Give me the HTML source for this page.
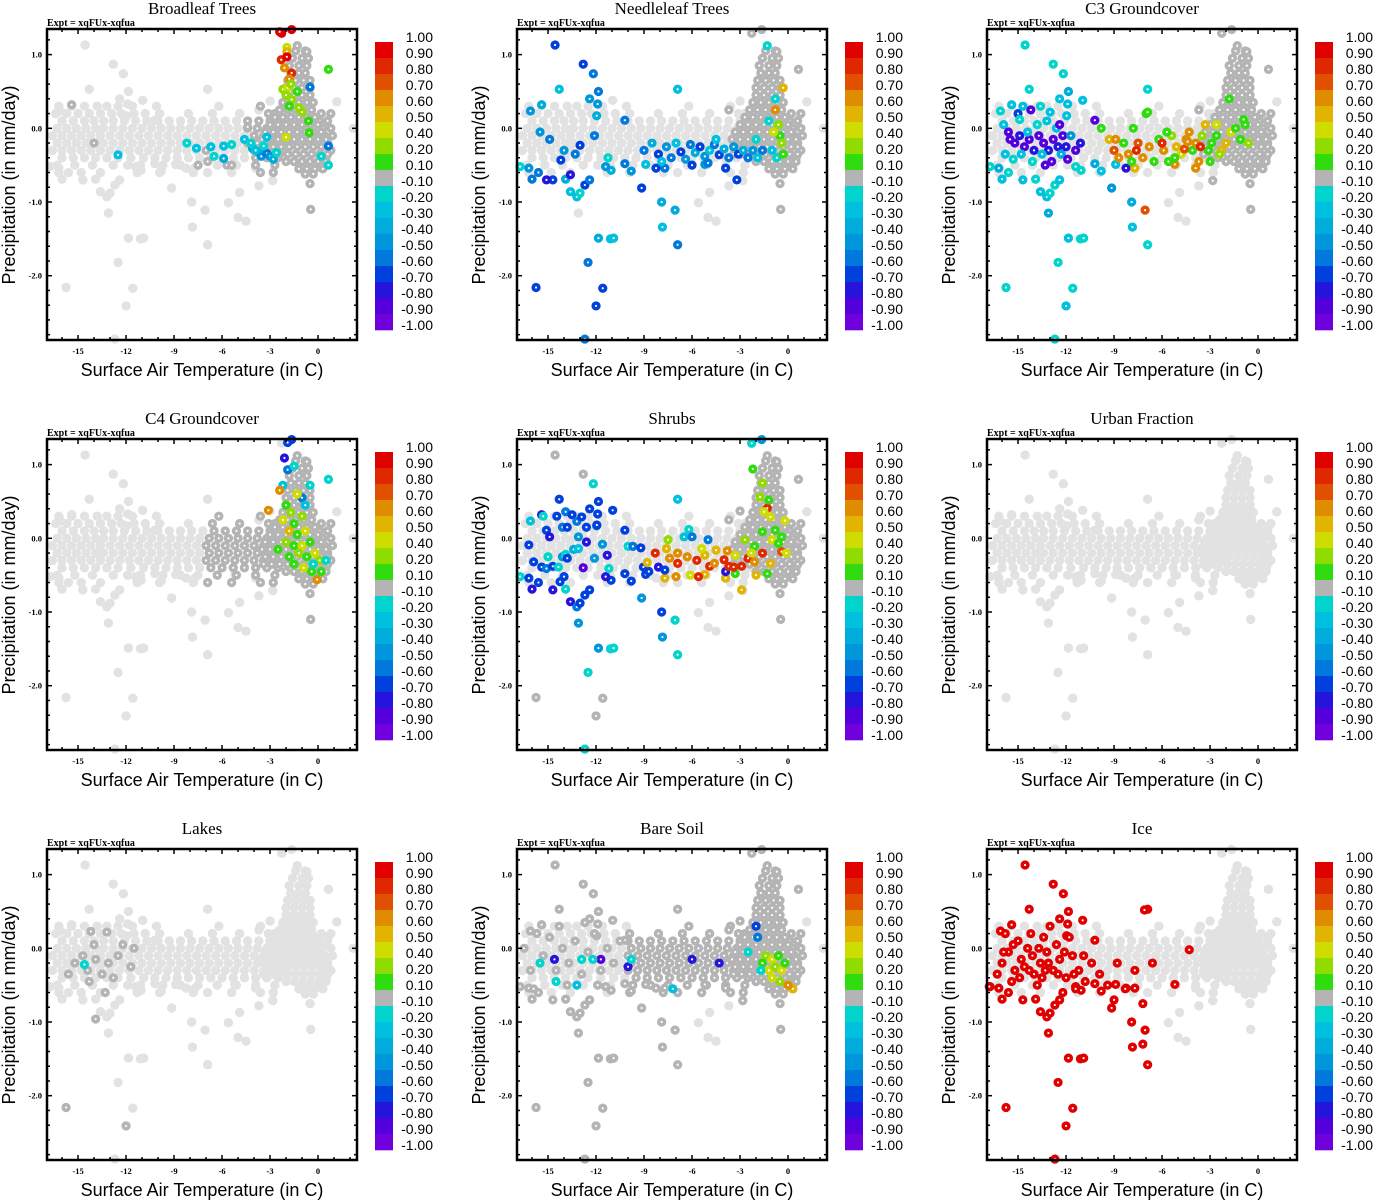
<!DOCTYPE html>
<html><head><meta charset="utf-8"><title>Scatter panels</title>
<style>
body{margin:0;background:#fff;}
svg{display:block;}
.ttl{font-family:"Liberation Serif",serif;font-size:17px;text-anchor:middle;}
.expt{font-family:"Liberation Serif",serif;font-size:10px;font-weight:bold;}
.tk{font-family:"Liberation Serif",serif;font-size:8.5px;font-weight:bold;}
.axt{font-family:"Liberation Sans",sans-serif;font-size:18px;text-anchor:middle;}
.cbl{font-family:"Liberation Sans",sans-serif;font-size:14px;text-anchor:end;}
</style></head>
<body>
<svg id="chart" width="1373" height="1200" viewBox="0 0 1373 1200" xmlns="http://www.w3.org/2000/svg"></svg>
<script>
// ---------- data ----------
const titles=["Broadleaf Trees","Needleleaf Trees","C3 Groundcover","C4 Groundcover","Shrubs","Urban Fraction","Lakes","Bare Soil","Ice"];
const cbLabels=["1.00","0.90","0.80","0.70","0.60","0.50","0.40","0.20","0.10","-0.10","-0.20","-0.30","-0.40","-0.50","-0.60","-0.70","-0.80","-0.90","-1.00"];
const cbBounds=[1.0,0.9,0.8,0.7,0.6,0.5,0.4,0.2,0.1,-0.1,-0.2,-0.3,-0.4,-0.5,-0.6,-0.7,-0.8,-0.9,-1.0];
const cbColors=["#e00000","#e02800","#e05000","#e08c00","#e0b400","#cfdc00","#90dc00","#30dc10","#b4b4b4","#00d4cc","#00c0e0","#00acdc","#0096dc","#0078dc","#0040dc","#2414dc","#5400dc","#7000dc"];
const xTicks=[-15,-12,-9,-6,-3,0];
const yTicks=[1.0,0.0,-1.0,-2.0];
const yTickLabels=["1.0","0.0","-1.0","-2.0"];

const bandRows=[
[0.3,[-16.2,-15.4,-14.6,-13.8,-13.2,-12.5,-11.6,-10.1,-6.2,-3.6]],
[0.2,[-16.4,-15.7,-15.0,-14.3,-13.6,-12.9,-12.3,-11.5,-10.8,-9.9,-8.1,-6.6,-4.9,-3.1,-2.7,0.2,0.8]],
[0.1,[-16.0,-15.3,-14.6,-14.0,-13.4,-12.8,-12.1,-11.4,-10.7,-10.0,-9.3,-8.6,-7.9,-7.2,-6.5,-5.8,-5.1,-4.4,-3.7,-3.0,-2.4,0.1,0.6]],
[0.0,[-16.3,-15.7,-15.1,-14.5,-13.9,-13.4,-12.8,-12.2,-11.6,-11.0,-10.4,-9.8,-9.2,-8.6,-8.0,-7.4,-6.8,-6.2,-5.6,-5.0,-4.4,-3.8,-3.2,-2.6,0.3,0.8]],
[-0.1,[-16.6,-16.0,-15.4,-14.8,-14.2,-13.6,-13.0,-12.4,-11.8,-11.2,-10.6,-10.0,-9.4,-8.8,-8.2,-7.6,-7.0,-6.4,-5.8,-5.2,-4.6,-4.0,-3.4,-2.8,-2.2,0.4,0.9]],
[-0.2,[-16.3,-15.7,-15.1,-14.5,-13.9,-13.4,-12.8,-12.2,-11.6,-11.0,-10.4,-9.8,-9.2,-8.6,-8.0,-7.4,-6.8,-6.2,-5.6,-5.0,-4.4,-3.8,-3.2,-2.6,-2.0,0.3,0.6]],
[-0.3,[-16.6,-16.0,-15.4,-14.8,-14.2,-13.6,-13.0,-12.4,-11.8,-11.2,-10.6,-10.0,-9.4,-8.8,-8.2,-7.6,-7.0,-6.4,-5.8,-5.2,-4.6,-4.0,-3.4,-2.8,-2.2,0.4,0.8]],
[-0.4,[-16.0,-15.3,-14.6,-13.9,-13.2,-12.5,-11.7,-10.9,-10.2,-9.5,-8.8,-8.1,-7.4,-6.7,-6.0,-5.3,-4.6,-3.9,-3.2,-2.5,0.5]],
[-0.5,[-16.3,-15.2,-14.1,-12.8,-11.9,-11.1,-9.7,-8.6,-7.5,-6.3,-5.1,-3.9,-2.7,0.2]],
[-0.6,[-16.2,-14.8,-13.6,-11.3,-9.9,-7.8,-6.9,-5.4,-3.6,-2.8]]
];
const spikeRows=[
[1.05,[-1.4,-0.8]],[0.95,[-1.6,-1.0,-0.6]],[0.85,[-1.8,-1.2,-0.7]],[0.75,[-1.7,-1.2,-0.8]],
[0.65,[-1.9,-1.4,-0.9,-0.5]],[0.55,[-2.0,-1.5,-1.0,-0.5]],[0.45,[-2.0,-1.5,-1.0,-0.5]],
[0.35,[-2.2,-1.7,-1.2,-0.7,-0.3]],[0.25,[-2.4,-1.9,-1.4,-0.9,-0.4]],[0.15,[-2.7,-2.2,-1.7,-1.2,-0.7,-0.2]],
[0.05,[-3.0,-2.5,-2.0,-1.5,-1.0,-0.5,0.0]],[-0.05,[-3.3,-2.8,-2.3,-1.8,-1.3,-0.8,-0.3,0.2]],
[-0.15,[-3.5,-3.0,-2.5,-2.0,-1.5,-1.0,-0.5,0.0,0.5]],[-0.25,[-3.3,-2.8,-2.3,-1.8,-1.3,-0.8,-0.3,0.2,0.6]],
[-0.35,[-3.4,-2.9,-2.4,-1.9,-1.4,-0.9,-0.4,0.1,0.6]],[-0.45,[-2.0,-1.5,-1.0,-0.5,0.0,0.5]],
[-0.55,[-1.2,-0.7,-0.2,0.3]],[-0.62,[-0.8,-0.3]]
];
const outT=[-14.56,-12.8,-12.17,-14.3,-16.1,-15.4,-11.85,-12.4,-10.96,-11.9,-11.96,-10.2,-6.9,-16.75,-16.2,-16.0,-15.6,-14.7,-13.9,-13.6,-13.2,-13.0,-12.7,-12.4,-13.1,-11.85,-11.1,-10.9,-12.5,-15.75,-11.58,-12.0,-12.7,-9.15,-7.9,-7.85,-6.9,-7.06,-10.2,-9.8,-8.9,-11.06,-11.4,-8.25,-7.7,-5.2,-3.9,-2.83,-0.5,-0.46,-5.6,-5.0,-4.5,-4.9,-3.7,0.65,1.17,2.2,0.65,-0.7,-1.3,-1.65,-2.27,-3.7,-3.0];
const outP=[1.13,0.87,0.74,0.53,0.235,0.32,0.50,0.40,0.38,0.33,0.17,0.11,0.53,-0.52,-0.54,-0.69,-0.60,-0.70,-0.69,-0.86,-0.93,-0.88,-0.77,-0.70,-1.15,-1.49,-1.50,-1.49,-1.82,-2.16,-2.17,-2.41,-2.86,-0.81,-1.0,-1.34,-1.58,-1.11,-0.48,-0.58,-0.49,-0.57,-0.52,-0.54,-0.54,-0.49,-0.54,-0.71,-0.75,-1.1,-1.01,-1.21,-1.26,-0.87,-0.78,0.16,0.36,0.0,0.80,1.04,1.12,1.34,1.29,0.25,0.37];
const N=null;
const outV1=[N,N,N,N,N,0,N,N,N,N,N,N,N,N,N,N,N,N,N,N,N,N,N,N,N,N,N,N,N,N,N,N,N,N,N,N,N,N,N,N,N,N,N,N,N,N,N,N,0,0,N,N,N,N,N,N,N,N,0.1,0,0,0.9,0.9,N,N];
const outV2=[-0.7,-0.7,-0.6,-0.3,-0.5,-0.4,-0.6,-0.5,N,-0.5,-0.4,-0.6,-0.3,-0.2,-0.5,-0.6,-0.6,-0.7,-0.4,-0.3,-0.3,-0.2,-0.7,-0.6,N,-0.4,-0.3,-0.3,-0.6,-0.7,-0.7,-0.7,-0.6,-0.7,-0.4,-0.3,-0.6,-0.4,-0.6,-0.5,-0.3,-0.4,-0.5,-0.7,-0.6,-0.5,-0.7,N,0,0,N,N,N,N,N,N,N,N,0,0,-0.2,0,0,0,N];
const outV3=[-0.2,-0.2,-0.2,-0.2,-0.2,-0.3,-0.4,-0.3,-0.3,-0.3,-0.3,-0.9,-0.2,-0.2,-0.4,-0.3,-0.2,-0.3,-0.2,-0.3,-0.3,-0.2,-0.2,-0.3,-0.4,-0.3,-0.2,-0.2,-0.2,-0.2,-0.2,-0.3,-0.2,-0.5,-0.4,-0.3,-0.2,0.7,-0.4,-0.3,-0.3,-0.2,-0.2,-0.8,0.5,0.6,0.6,0,0,0,N,N,N,N,N,N,N,N,0,0,0,0,0,0,N];
const outV4=[N,N,N,N,N,N,N,N,N,N,N,N,N,N,N,N,N,N,N,N,N,N,N,N,N,N,N,N,N,N,N,N,N,N,N,N,N,N,N,N,N,N,N,N,N,N,N,N,0,0,N,N,N,N,N,N,N,N,-0.2,0,0,-0.7,N,N,N];
const outV5=[0,0,-0.2,-0.7,-0.3,-0.8,-0.7,-0.7,-0.7,-0.7,-0.6,-0.7,-0.3,-0.2,-0.7,-0.8,-0.7,-0.8,-0.2,-0.8,-0.6,-0.7,-0.7,-0.7,-0.5,-0.5,-0.2,-0.2,-0.2,0,0,0,-0.2,-0.5,-0.7,-0.5,-0.2,-0.2,-0.7,-0.7,-0.7,-0.7,-0.8,N,0.5,0.5,0.5,N,0,0,N,N,N,N,N,N,N,N,0,0,0,-0.5,-0.2,0,0];
const outV6=[];
const outV7=[];
const outV8=[0,0,0,0,0,0,0,0,0,0,0,0,0,0,0,0,0,0,0,0,0,0,0,0,0,0,0,0,0,0,0,0,0,0,0,0,0,0,0,0,0,0,0,0,0,0,0,0,0,0,N,N,N,N,N,N,N,N,0,0,0,0,0,0,0];
const outV9=[1,1,1,1,1,1,1,1,1,1,1,1,1,1,1,1,1,1,1,1,1,1,1,1,1,1,1,1,1,1,1,1,1,1,1,1,1,1,1,1,1,1,1,1,1,1];
const darkFrom=[-4.5,-2.5,-2.5,-7,-1.5,99,99,-10,99];
const spikeDark=[true,true,true,true,true,false,false,true,false];

const pts1=[[-2.4,1.31,0.9],[-1.95,1.1,0.4],[-1.95,1.04,0.5],[-2.3,0.93,0.8],[-1.95,0.97,0.9],[-2.1,0.82,0.6],[-1.65,0.75,0.8],[-1.8,0.67,0.6],[-2.2,0.53,0.2],[-1.9,0.55,0.4],[-2.0,0.45,0.2],[-1.3,0.5,0.1],[-1.65,0.39,0.2],[-1.8,0.3,0.1],[-1.2,0.28,0.2],[-1.0,0.22,0.2],[-0.6,0.1,0.1],[-0.55,-0.06,0.1],[-2.0,-0.12,0.4],[-1.7,0.6,0.2],[-0.5,0.56,-0.6],
[-8.2,-0.2,-0.2],[-7.6,-0.27,-0.3],[-6.7,-0.25,-0.3],[-6.5,-0.38,-0.2],[-5.9,-0.24,-0.3],[-5.9,-0.41,-0.4],[-5.4,-0.22,-0.2],[-4.6,-0.15,-0.3],[-4.1,-0.27,-0.4],[-3.7,-0.33,-0.4],[-3.55,-0.38,-0.5],[-3.2,-0.34,-0.6],[-3.0,-0.38,-0.5],[-2.8,-0.42,-0.4],[-2.6,-0.33,-0.2],[-4.2,-0.2,-0.2],[-12.5,-0.36,-0.3],[0.65,-0.5,-0.2],[0.65,-0.24,-0.6],[-3.2,-0.12,-0.3],[-3.4,-0.24,-0.2],[-3.9,-0.3,-0.3],[0.2,-0.38,-0.2],
[-14.0,-0.2,0],[-4.4,0.02,0],[-7.5,-0.5,0],[-6.9,-0.45,0],[-5.7,-0.5,0],[-5.4,-0.5,0],[-7.0,-0.3,0]];
const pts2=[[-15.5,-0.05,-0.5],[-14.9,-0.15,-0.6],[-14.2,-0.43,-0.7],[-13.0,-0.23,-0.7],[-12.1,-0.1,-0.6],[-13.6,-0.63,-0.8],[-15.1,-0.7,-0.8],[-11.25,-0.4,-0.2],[-14.0,-0.3,-0.5],[-13.3,-0.35,-0.6],
[-9.0,-0.3,-0.6],[-8.5,-0.2,-0.4],[-8.1,-0.35,-0.7],[-7.6,-0.25,-0.5],[-7.3,-0.4,-0.6],[-7.0,-0.2,-0.3],[-6.7,-0.32,-0.7],[-6.4,-0.42,-0.5],[-6.1,-0.22,-0.6],[-5.8,-0.33,-0.4],[-5.5,-0.25,-0.7],[-5.2,-0.38,-0.5],[-4.9,-0.3,-0.3],[-4.6,-0.22,-0.6],[-4.3,-0.36,-0.7],[-4.0,-0.28,-0.4],[-3.7,-0.4,-0.6],[-3.4,-0.25,-0.5],[-3.1,-0.35,-0.7],[-2.8,-0.3,-0.4],[-2.5,-0.4,-0.6],[-2.2,-0.3,-0.5],[-1.9,-0.4,-0.3],[-1.6,-0.3,-0.6],[-7.9,-0.45,-0.3],[-6.0,-0.5,-0.7],[-5.0,-0.47,-0.6],[-3.2,-0.7,-0.7],[-4.5,-0.15,-0.3],[-2.0,-0.15,-0.2],
[-0.3,0.55,0.5],[-0.8,0.25,0.6],[-0.6,0.05,0.2],[-0.5,-0.1,0.1],[-0.9,-0.05,0.4],[-0.4,-0.2,0.2],[-1.2,0.1,-0.2],[-1.0,-0.3,-0.3],[-0.7,-0.4,-0.2],[-0.3,-0.35,0.1],[-0.8,0.4,-0.2]];
const pts3=[[-15.5,-0.15,-0.9],[-15.2,-0.2,-0.9],[-14.9,-0.1,-0.8],[-14.6,-0.25,-0.9],[-14.3,-0.15,-0.9],[-14.0,-0.3,-0.8],[-13.7,-0.1,-0.9],[-13.4,-0.2,-0.9],[-13.1,-0.3,-0.8],[-12.8,-0.15,-0.9],[-12.5,-0.25,-0.8],[-12.2,-0.1,-0.9],[-15.8,-0.35,-0.3],[-15.3,-0.42,-0.2],[-14.8,-0.35,-0.3],[-14.4,-0.05,-0.3],[-14.1,-0.45,-0.2],[-13.8,0.05,-0.2],[-13.5,-0.35,-0.3],[-13.2,0.1,-0.3],[-12.9,-0.45,-0.9],[-12.6,0.0,-0.3],[-12.3,-0.35,-0.4],[-12.0,-0.25,-0.8],[-11.7,-0.1,-0.5],[-11.4,-0.3,-0.9],[-11.1,-0.2,-0.8],[-15.9,0.05,-0.3],[-15.0,0.2,-0.7],[-14.2,0.25,-0.9],[-13.0,0.22,-0.3],[-14.7,0.3,-0.3],[-13.6,0.3,-0.2],[-15.6,-0.05,-0.9],[-12.4,0.05,-0.9],[-13.3,-0.5,-0.9],[-11.9,-0.42,-0.9],[-14.9,0.12,-0.2],
[-9.8,0.0,0.1],[-9.3,-0.15,0.5],[-9.0,-0.3,0.7],[-8.7,-0.4,0.6],[-8.4,-0.2,0.1],[-8.1,-0.35,0.6],[-7.8,0.0,0.1],[-7.5,-0.2,0.7],[-7.2,-0.4,0.6],[-7.0,0.2,0.1],[-6.8,-0.25,0.6],[-6.5,-0.45,0.1],[-6.2,-0.15,0.1],[-5.9,-0.3,0.6],[-5.6,-0.45,0.1],[-5.4,-0.1,0.2],[-5.1,-0.25,0.5],[-4.8,-0.35,0.4],[-4.5,-0.15,0.6],[-4.3,-0.05,0.6],[-4.1,-0.3,0.1],[-3.9,-0.2,0.6],[-3.7,-0.45,0.6],[-3.5,-0.1,0.2],[-3.3,0.05,0.5],[-3.1,-0.3,0.1],[-2.9,-0.2,0.1],[-2.6,-0.1,0.1],[-2.3,-0.3,0.5],[-2.0,-0.2,0.5],[-1.7,-0.05,0.4],[-1.4,0.0,0.1],[-1.1,-0.15,0.1],[-0.8,0.05,0.1],[-0.6,-0.2,0.2],[-2.6,0.05,0.4],[-4.6,-0.28,0.7],[-4.4,-0.18,0.6],[-6.0,-0.2,0.8],[-3.6,-0.25,0.8],[-5.7,-0.05,0.1],[-7.6,-0.3,0.8],[-8.9,-0.15,0.6],[-1.8,0.4,0.1],[-0.9,0.12,0.1],[-6.9,0.22,0.1],[-3.0,-0.45,0.1],[-5.2,-0.4,0.1],[-2.4,-0.35,0.2],[-7.9,-0.45,0.1]];
const pts4=[[-1.9,1.3,-0.7],[-2.1,1.09,-0.8],[-1.9,0.93,-0.6],[-2.2,0.72,-0.3],[-1.5,0.98,-0.2],[-0.5,0.72,-0.2],[-2.4,0.65,0.6],[-3.1,0.38,0.6],[-2.0,0.45,0.1],[-1.7,0.35,0.2],[-2.2,0.25,0.4],[-1.5,0.2,0.1],[-1.0,0.3,0.2],[-1.8,0.1,0.5],[-1.3,0.05,0.1],[-0.8,0.1,0.4],[-2.0,-0.05,0.2],[-1.5,-0.1,0.1],[-1.0,-0.1,0.4],[-0.5,-0.05,0.1],[-1.8,-0.25,0.1],[-1.2,-0.2,0.2],[-0.7,-0.25,0.1],[-0.2,-0.2,0.4],[0.1,-0.3,0.2],[-1.5,-0.35,0.1],[-0.9,-0.4,0.4],[-0.4,-0.45,0.1],[0.2,-0.45,0.1],[-0.06,-0.56,0.6],[-0.3,-0.35,-0.2],[-1.0,0.55,-0.6],[-0.8,0.45,-0.3],[-1.3,0.6,0.4],[0.5,-0.3,-0.2],[-2.5,-0.15,0.1]];
const pts5=[[-14.45,0.3,-0.7],[-13.9,0.36,-0.6],[-13.5,0.32,-0.7],[-13.2,0.23,-0.6],[-12.9,0.29,-0.7],[-12.6,0.15,-0.7],[-11.95,0.18,-0.7],[-15.3,0.3,-0.2],[-15.1,0.11,-0.7],[-14.9,0.02,-0.8],[-14.1,0.15,-0.6],[-13.8,0.15,-0.7],[-13.1,0.02,-0.5],[-12.6,-0.05,-0.8],[-11.6,-0.08,-0.5],[-16.2,-0.09,-0.7],[-15.9,-0.32,-0.7],[-15.4,-0.39,-0.7],[-15.1,-0.41,-0.6],[-14.7,-0.38,-0.7],[-14.1,-0.25,-0.5],[-13.9,-0.22,-0.2],[-13.8,-0.27,-0.7],[-13.4,-0.15,-0.4],[-13.1,-0.14,-0.3],[-12.8,-0.4,-0.9],[-12.1,-0.27,-0.5],[-11.3,-0.23,-0.8],[-11.2,-0.41,-0.2],[-14.0,-0.52,-0.7],[-14.25,-0.59,-0.7],[-15.0,-0.25,-0.2],[-14.35,-0.39,-0.2],
[-10.0,-0.11,-0.2],[-9.7,-0.11,-0.6],[-9.2,-0.13,-0.7],[-9.04,-0.39,-0.7],[-8.7,-0.45,-0.7],[-8.1,-0.39,-0.8],[-7.7,-0.43,-0.7],[-6.5,0.02,-0.3],[-6.2,0.12,-0.2],[-6.0,0.02,-0.6],[-5.0,-0.02,-0.6],[-3.9,-0.45,-0.8],[-3.3,-0.48,0.1],
[-8.3,-0.2,0.8],[-8.8,-0.33,0.5],[-7.6,-0.14,0.5],[-7.4,-0.27,0.6],[-6.9,-0.2,0.6],[-6.9,-0.34,0.8],[-6.3,-0.25,0.6],[-6.1,-0.5,0.4],[-5.7,-0.3,0.8],[-5.6,-0.52,0.8],[-5.2,-0.23,0.5],[-4.9,-0.38,0.8],[-4.6,-0.34,0.6],[-4.0,-0.29,0.8],[-3.7,-0.38,0.8],[-3.4,-0.39,0.8],[-2.9,-0.38,0.8],[-2.9,-0.7,0.5],[-2.5,-0.27,0.8],[-2.1,-0.32,0.6],[-7.0,-0.52,0.6],[-4.5,-0.16,0.5],[-5.4,-0.14,0.4],[-7.5,-0.02,0.2],[-3.8,-0.17,0.6],[-3.3,-0.23,0.4],
[-2.2,0.94,0.1],[-1.6,0.75,0.2],[-1.3,0.41,0.8],[-1.5,0.36,0.4],[-1.2,0.52,0.1],[-0.2,0.24,0.4],[-0.4,0.02,0.1],[-1.0,-0.02,0.4],[-1.6,0.09,0.1],[-2.7,-0.02,0.2],[-1.6,-0.2,0.8],[-0.4,-0.18,0.7],[-0.1,-0.2,0.4],[-1.3,-0.48,0.1],[-2.0,-0.5,0.5],[-1.1,-0.34,0.5],[-0.6,-0.07,0.1],[-2.1,-0.11,0.1],[-2.3,-0.2,0.4],[-1.75,0.56,0.2],[-1.1,0.29,0.4],[-0.8,0.11,0.1]];
const pts6=[];
const pts7=[[-15.2,-0.2,0],[-14.7,-0.1,0],[-14.4,-0.3,0],[-13.9,-0.15,0],[-13.5,-0.35,0],[-13.1,-0.2,0],[-12.8,-0.4,0],[-12.5,-0.1,0],[-12.2,0.05,0],[-15.6,-0.35,0],[-14.0,0.05,0],[-13.3,-0.6,0],[-13.9,-0.96,0],[-14.2,0.23,0],[-13.2,0.22,0],[-11.5,0.0,0],[-11.7,-0.25,0],[-14.3,-0.45,0],[-15.75,-2.16,0],[-12.0,-2.41,0],[-14.6,-0.22,-0.2]];
const pts8=[[-16.5,0.0,0],[-16.1,-0.3,0],[-15.7,0.2,0],[-15.3,-0.1,0],[-14.9,0.15,0],[-14.5,-0.3,0],[-14.1,0.0,0],[-13.7,-0.2,0],[-13.3,0.1,0],[-12.9,-0.35,0],[-12.5,-0.05,0],[-12.1,0.2,0],[-11.7,-0.3,0],[-11.3,0.0,0],[-10.9,-0.2,0],[-10.5,0.1,0],[-15.9,-0.55,0],[-13.8,-0.5,0],[-11.9,-0.5,0],[-14.3,0.3,0],[-12.7,0.35,0],
[-1.4,-0.1,0.2],[-1.0,-0.15,0.4],[-0.6,-0.1,0.1],[-1.2,-0.3,0.4],[-0.8,-0.25,0.2],[-0.4,-0.3,0.4],[-1.6,-0.2,0.1],[-0.2,-0.2,0.1],[-1.0,-0.4,0.4],[-0.5,-0.45,0.2],[0.3,-0.55,0.5],[0.0,-0.5,0.6],
[-14.6,-0.15,-0.8],[-11.7,-0.15,-0.9],[-10.0,-0.25,-0.8],[-6.0,-0.15,-0.8],[-4.3,-0.2,-0.8],[-1.9,0.15,-0.6],[-2.0,0.3,-0.7],
[-15.5,-0.2,-0.2],[-14.5,-0.45,-0.2],[-13.2,-0.5,-0.3],[-12.9,-0.15,-0.2],[-12.2,-0.15,-0.2],[-9.8,-0.15,-0.2],[-7.2,-0.55,-0.3],[-2.5,-0.05,-0.2],[-1.7,-0.3,-0.2]];
const pts9=[[-16,-0.2,1],[-15.6,-0.05,1],[-15.2,-0.3,1],[-14.8,-0.15,1],[-14.4,0.0,1],[-14.0,-0.35,1],[-13.6,-0.2,1],[-13.2,-0.05,1],[-12.8,-0.3,1],[-12.4,-0.15,1],[-12.0,-0.4,1],[-11.6,-0.1,1],[-11.2,-0.3,1],[-10.8,-0.45,1],[-15.0,0.1,1],[-14.2,0.2,1],[-13.4,0.15,1],[-12.6,0.05,1],[-11.8,0.15,1],[-15.4,-0.45,1],[-13.8,-0.5,1],[-12.2,-0.6,1],[-10.4,-0.2,1],[-9.9,-0.35,1],[-9.4,-0.5,1],[-8.8,-0.2,1],[-8.3,-0.55,1],[-7.7,-0.3,1],[-7.2,-0.75,1],[-6.6,-0.2,1],[-4.3,-0.02,1],[-7.1,0.52,1],[-16.8,-0.52,1],[-14.3,-0.3,1],[-13.5,-0.4,1],[-11.4,-0.55,1],[-9.0,-0.7,1],[-7.2,-1.3,1],[-13.0,0.3,1],[-15.8,0.2,1],
[-15.9,-0.05,1],[-15.3,0.05,1],[-14.6,-0.25,1],[-14.1,-0.1,1],[-13.7,0.0,1],[-13.1,-0.2,1],[-12.5,-0.35,1],[-12.1,-0.05,1],[-11.5,-0.35,1],[-10.9,-0.1,1],[-16.3,-0.35,1],[-14.9,-0.4,1],[-13.3,-0.3,1]];

const outVals=[outV1,outV2,outV3,outV4,outV5,outV6,outV7,outV8,outV9];
const panelPts=[pts1,pts2,pts3,pts4,pts5,pts6,pts7,pts8,pts9];

// ---------- drawing ----------
const NS="http://www.w3.org/2000/svg";
const svg=document.getElementById("chart");
const PL=47,PR=357,PT=29,PB=340;
function xs(t){return PL+(t+16.94)*16;}
function ys(p){return 128.3-p*73.7;}
function colorFor(v){
  for(let i=0;i<cbColors.length;i++){ if(v>=cbBounds[i+1]-1e-9) return cbColors[i]; }
  return cbColors[cbColors.length-1];
}
function mk(tag,attrs,parent){
  const e=document.createElementNS(NS,tag);
  for(const k in attrs) e.setAttribute(k,attrs[k]);
  parent.appendChild(e); return e;
}
function lightPt(g,t,p){
  const c=mk("circle",{cx:xs(t),cy:ys(p),r:4.7,fill:"#e2e2e2"},g);
  
  
}
function valPt(g,t,p,v){
  const c=mk("circle",{cx:xs(t),cy:ys(p),r:4.6,fill:colorFor(v)},g);
  
  
  mk("circle",{cx:xs(t),cy:ys(p),r:1.1,fill:"#ffffff"},g);
}

for(let k=0;k<9;k++){
  const ox=(k%3)*470, oy=Math.floor(k/3)*410;
  const g=mk("g",{transform:"translate("+ox+","+oy+")"},svg);
  
  

  const tt=mk("text",{x:202,y:14,class:"ttl"},g); tt.textContent=titles[k];
  
  
  const ex=mk("text",{x:47,y:26,class:"expt"},g); ex.textContent="Expt = xqFUx-xqfua";
  
  

  const pg=mk("g",{},g);
  
  
  bandRows.forEach(r=>r[1].forEach(t=>lightPt(pg,t,r[0])));
  spikeRows.forEach(r=>r[1].forEach(t=>lightPt(pg,t,r[0])));
  outT.forEach((t,i)=>lightPt(pg,t,outP[i]));
  bandRows.forEach(r=>r[1].forEach(t=>{ if(t>=darkFrom[k]) valPt(pg,t,r[0],0); }));
  if(spikeDark[k]) spikeRows.forEach(r=>r[1].forEach(t=>valPt(pg,t,r[0],0)));
  const ov=outVals[k];
  outT.forEach((t,i)=>{ if(ov[i]!==undefined && ov[i]!==null && ov[i]===0) valPt(pg,t,outP[i],0); });
  panelPts[k].forEach(d=>{ if(d[2]===0) valPt(pg,d[0],d[1],0); });
  outT.forEach((t,i)=>{ if(ov[i]!==undefined && ov[i]!==null && ov[i]!==0) valPt(pg,t,outP[i],ov[i]); });
  panelPts[k].forEach(d=>{ if(d[2]!==0) valPt(pg,d[0],d[1],d[2]); });

  const fr=mk("rect",{x:PL,y:PT,width:PR-PL,height:PB-PT,fill:"none",stroke:"#000","stroke-width":2.5},g);
  
  
  for(let t=-16;t<=2;t++){
    const x=xs(t), major=(t%3===0);
    const L=major?5:3;
    mk("line",{x1:x,y1:PB,x2:x,y2:PB-L,stroke:"#000","stroke-width":1.5},g);
    mk("line",{x1:x,y1:PT,x2:x,y2:PT+L,stroke:"#000","stroke-width":1.5},g);
  }
  xTicks.forEach(t=>{
    const tl=mk("text",{x:xs(t),y:354,class:"tk","text-anchor":"middle"},g); tl.textContent=String(t);
    
    
  });
  for(let i=-28;i<=13;i+=2){
    const p=i/10, y=ys(p); if(y<PT+1||y>PB-1) continue;
    const major=(i%10===0), L=major?5:3;
    mk("line",{x1:PL,y1:y,x2:PL+L,y2:y,stroke:"#000","stroke-width":1.5},g);
    mk("line",{x1:PR,y1:y,x2:PR-L,y2:y,stroke:"#000","stroke-width":1.5},g);
  }
  yTicks.forEach((p,i)=>{
    const tl=mk("text",{x:42,y:ys(p)+3,class:"tk","text-anchor":"end"},g); tl.textContent=yTickLabels[i];
    
    
  });
  const xt=mk("text",{x:202,y:376,class:"axt"},g); xt.textContent="Surface Air Temperature (in C)";
  
  
  const yt=mk("text",{x:15,y:185,class:"axt",transform:"rotate(-90 15 185)"},g); yt.textContent="Precipitation (in mm/day)";
  
  

  const cb=mk("g",{},g);
  
  
  cbColors.forEach((c,i)=>{
    const r=mk("rect",{x:375,y:42+i*16,width:18,height:16.3,fill:c},cb);
    
    
  });
  cbLabels.forEach((s,i)=>{
    const tl=mk("text",{x:433,y:42+i*16,class:"cbl"},cb); tl.textContent=s;
    
    
  });
}
</script>
</body></html>
